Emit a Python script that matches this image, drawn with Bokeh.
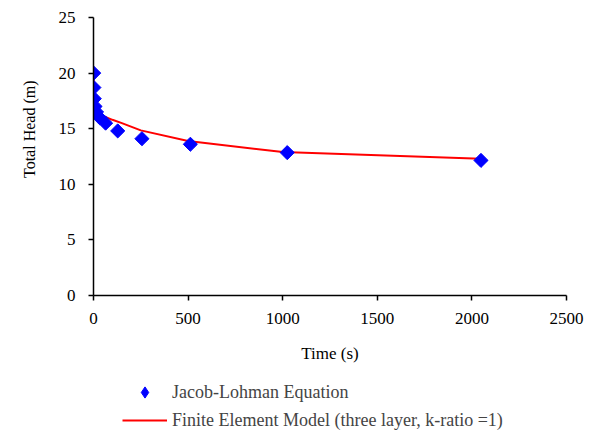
from bokeh.plotting import figure
from bokeh.models import Legend, LegendItem, FixedTicker, Range1d, Title
from bokeh.layouts import column
from bokeh.embed import file_html
from bokeh.resources import INLINE

# Jacob-Lohman equation points
jl_time = [1, 2, 4, 8, 16, 32, 64, 128, 256, 512, 1024, 2048]
jl_head = [20.0, 18.7, 17.7, 17.0, 16.5, 16.0, 15.5, 14.8, 14.1, 13.6, 12.85, 12.15]

# Finite element model curve
fem_time = [0, 5, 10, 25, 50, 100, 150, 250, 500, 1000, 2048]
fem_head = [19.6, 17.6, 17.0, 16.5, 16.15, 15.8, 15.5, 14.85, 13.9, 12.9, 12.3]

x_ticks = [0, 500, 1000, 1500, 2000, 2500]
y_ticks = [0, 5, 10, 15, 20, 25]

labels = ["Jacob-Lohman Equation", "Finite Element Model (three layer, k-ratio =1)"]

FONT = "Liberation Serif"
BLUE = "#0000ff"
RED = "#ff0000"

p = figure(width=595, height=372, output_backend="svg", toolbar_location=None,
           x_range=Range1d(0, 2500), y_range=Range1d(0, 25),
           min_border_left=91, min_border_right=29, min_border_top=17, min_border_bottom=77)
p.outline_line_color = None
p.grid.grid_line_color = None

p.line(fem_time, fem_head, line_color=RED, line_width=2)
p.scatter(jl_time, jl_head, marker="square", angle=0.785398, size=10,
          fill_color=BLUE, line_color=BLUE)

for ax in (p.xaxis[0], p.yaxis[0]):
    ax.axis_line_color = "black"
    ax.axis_line_width = 1.5
    ax.major_tick_line_color = "black"
    ax.major_tick_line_width = 1.5
    ax.major_tick_out = 5
    ax.major_tick_in = 0
    ax.minor_tick_line_color = None
    ax.major_label_text_font = FONT
    ax.major_label_text_font_size = "17px"
    ax.major_label_text_color = "black"
    ax.axis_label_text_font = FONT
    ax.axis_label_text_font_style = "normal"
    ax.axis_label_text_color = "black"

p.xaxis.axis_label_text_font_size = "17px"
p.xaxis.ticker = FixedTicker(ticks=x_ticks)
p.yaxis.ticker = FixedTicker(ticks=y_ticks)
p.xaxis.axis_label = "Time (s)"
p.xaxis.major_label_standoff = 12
p.yaxis.major_label_standoff = 13
p.xaxis.axis_label_standoff = 17

ytitle = Title(text="Total Head (m)", align="right", offset=63, standoff=36,
               text_font=FONT, text_font_size="16px", text_font_style="normal",
               text_color="black")
p.add_layout(ytitle, "left")

# legend panel
lg = figure(width=595, height=58, output_backend="svg", toolbar_location=None,
            x_range=Range1d(-2, -1), y_range=Range1d(-2, -1),
            x_axis_location=None, y_axis_location=None,
            min_border_left=0, min_border_right=0, min_border_top=0, min_border_bottom=0)
lg.grid.grid_line_color = None
lg.outline_line_color = None
# proxies for the legend (outside the visible ranges)
d_pts = lg.scatter(jl_time, jl_head, marker="diamond", size=16, fill_color=BLUE, line_color=BLUE)
d_line = lg.line(fem_time, fem_head, line_color=RED, line_width=2)

legend = Legend(items=[
    LegendItem(label=labels[0], renderers=[d_pts]),
    LegendItem(label=labels[1], renderers=[d_line]),
], location=(29, -4), orientation="vertical")
legend.label_text_font = FONT
legend.label_text_font_size = "18px"
legend.border_line_color = None
legend.background_fill_alpha = 0
legend.padding = 0
legend.margin = 0
legend.glyph_width = 45
legend.glyph_height = 28
legend.label_height = 28
legend.spacing = 0
legend.label_standoff = 5
lg.add_layout(legend, "center")

layout = column(p, lg, spacing=0)
open("out.html", "w").write(file_html(layout, INLINE))
